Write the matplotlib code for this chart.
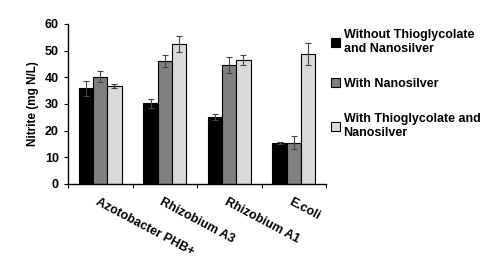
import matplotlib.pyplot as plt
import numpy as np

plt.rcParams['font.family'] = ['Liberation Sans', 'DejaVu Sans']
plt.rcParams['font.weight'] = 'bold'

# data
strains = ['Azotobacter PHB+', 'Rhizobium A3', 'Rhizobium A1', 'E.coli']
series = ['Without Thioglycolate\nand Nanosilver', 'With Nanosilver',
          'With Thioglycolate and\nNanosilver']
without_both = [35.8, 30.2, 25.2, 15.3]
with_silver = [40.2, 46.2, 44.5, 15.5]
with_both = [36.7, 52.3, 46.5, 48.7]
err_without = [2.7, 1.6, 1.2, 0.4]
err_silver = [2.0, 2.3, 3.0, 2.5]
err_both = [0.7, 3.0, 2.0, 4.0]

colors = ['#000000', '#808080', '#d9d9d9']

fig = plt.figure(figsize=(5, 2.69), dpi=100)
ax = fig.add_axes([0.136, 0.316, 0.516, 0.595])

x = np.arange(len(strains))
w = 0.22
vals = [without_both, with_silver, with_both]
errs = [err_without, err_silver, err_both]
for i in range(3):
    ax.bar(x + (i - 1) * w, vals[i], w, color=colors[i], edgecolor='black',
           linewidth=0.8, label=series[i],
           yerr=errs[i], ecolor='#444444', capsize=2.5,
           error_kw={'elinewidth': 0.8, 'capthick': 0.8})

ax.set_xlim(-0.5, 3.5)
ax.set_ylim(0, 60)
ax.set_yticks(range(0, 61, 10))
ax.set_ylabel('Nitrite (mg N/L)', fontsize=8.5, fontweight='bold')
ax.tick_params(axis='y', labelsize=9, direction='out', length=3)
ax.set_xticks(np.arange(-0.5, 3.6, 1.0))
ax.set_xticklabels([])
ax.tick_params(axis='x', direction='out', length=3)
for xi, name in zip(x, strains):
    ax.text(xi - 0.02, -4.5, name, rotation=-28, ha='left', va='top',
            rotation_mode='anchor', fontsize=9, fontweight='bold')

for s in ['top', 'right']:
    ax.spines[s].set_visible(False)
for s in ['left', 'bottom']:
    ax.spines[s].set_linewidth(1.0)

fig.legend(loc='upper left', bbox_to_anchor=(0.652, 0.91), frameon=False,
           fontsize=9, handlelength=0.7, handleheight=0.7, handletextpad=0.3,
           labelspacing=1.85, borderaxespad=0)

fig.savefig('out.png', dpi=100)
